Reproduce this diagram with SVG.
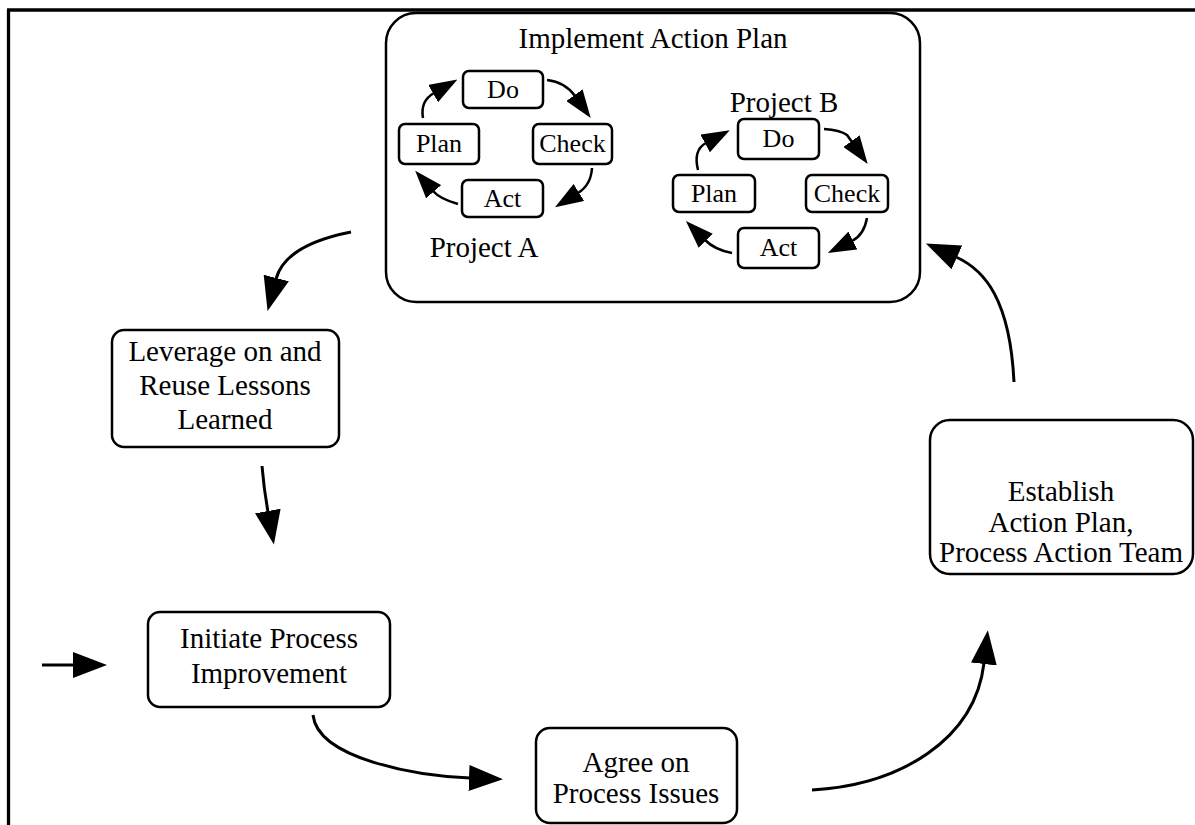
<svg xmlns="http://www.w3.org/2000/svg" width="1195" height="825" viewBox="0 0 1195 825">
<style>
.box{fill:#fff;stroke:#000;stroke-width:2.5}
.sbox{fill:#fff;stroke:#000;stroke-width:2.5}
.t{font-family:"Liberation Serif","Times New Roman",serif;font-size:29px;fill:#000;text-anchor:middle}
.st{font-family:"Liberation Serif","Times New Roman",serif;font-size:26px;fill:#000;text-anchor:middle}
.c{fill:none;stroke:#000;stroke-width:3}
.sc{fill:none;stroke:#000;stroke-width:2.5}
</style>
<defs>
<marker id="big" markerUnits="userSpaceOnUse" markerWidth="34" markerHeight="26" viewBox="0 0 34 26" refX="1" refY="13" orient="auto">
<path d="M0,0 L34,13 L0,26 z" fill="#000"/>
</marker>
<marker id="small" markerUnits="userSpaceOnUse" markerWidth="28" markerHeight="20" viewBox="0 0 28 20" refX="1" refY="10" orient="auto">
<path d="M0,0 L28,10 L0,20 z" fill="#000"/>
</marker>
</defs>
<rect width="1195" height="825" fill="#fff"/>
<g id="frame" fill="none" stroke="#000" stroke-width="3.3">
<path d="M7,10 H1195 M8.5,10 V825"/>
</g>
<g id="implement">
<rect class="box" x="386" y="13" width="534" height="289" rx="30"/>
<text class="t" x="653" y="48" font-size="31.5">Implement Action Plan</text>
<text class="t" x="484" y="257" font-size="30.5">Project A</text>
<text class="t" x="784" y="112" font-size="30">Project B</text>
</g>
<g id="a-do"><rect class="sbox" x="463" y="71" width="80" height="37" rx="6"/><text class="st" x="503" y="98">Do</text></g>
<g id="a-plan"><rect class="sbox" x="399" y="124" width="80" height="40" rx="6"/><text class="st" x="439" y="152">Plan</text></g>
<g id="a-check"><rect class="sbox" x="533" y="124" width="79" height="40" rx="6"/><text class="st" x="572.5" y="152">Check</text></g>
<g id="a-act"><rect class="sbox" x="462" y="180" width="81" height="37" rx="6"/><text class="st" x="502.5" y="207">Act</text></g>
<g id="b-do"><rect class="sbox" x="738" y="119" width="81" height="40" rx="6"/><text class="st" x="778.5" y="147">Do</text></g>
<g id="b-plan"><rect class="sbox" x="673" y="175" width="82" height="37" rx="6"/><text class="st" x="714" y="202">Plan</text></g>
<g id="b-check"><rect class="sbox" x="806" y="175" width="82" height="37" rx="6"/><text class="st" x="847" y="202">Check</text></g>
<g id="b-act"><rect class="sbox" x="738" y="228" width="81" height="40" rx="6"/><text class="st" x="778.5" y="256">Act</text></g>
<g id="leverage">
<rect class="box" x="112" y="330" width="227" height="117" rx="12"/>
<text class="t" x="225" y="361">Leverage on and</text>
<text class="t" x="225" y="395">Reuse Lessons </text>
<text class="t" x="225" y="429">Learned</text>
</g>
<g id="initiate">
<rect class="box" x="148" y="612" width="242" height="95" rx="12"/>
<text class="t" x="269" y="648">Initiate Process</text>
<text class="t" x="269" y="683">Improvement</text>
</g>
<g id="agree">
<rect class="box" x="536" y="728" width="201" height="95" rx="14"/>
<text class="t" x="636" y="772">Agree on</text>
<text class="t" x="636" y="803">Process Issues</text>
</g>
<g id="establish">
<rect class="box" x="930" y="420" width="263" height="154" rx="20"/>
<text class="t" x="1061" y="501">Establish</text>
<text class="t" x="1061" y="532">Action Plan,</text>
<text class="t" x="1061" y="562">Process Action Team</text>
</g>
<g id="connectors">
<path class="c" marker-end="url(#big)" d="M351,232 Q285,245 276,279"/>
<path class="c" marker-end="url(#big)" d="M262,466 Q264,490 268,512"/>
<path class="c" marker-end="url(#big)" d="M42,665 L74,665"/>
<path class="c" marker-end="url(#big)" d="M313,715 C318,760 420,776 470,778"/>
<path class="c" marker-end="url(#big)" d="M812,790 C900,785 975,740 984,663"/>
<path class="c" marker-end="url(#big)" d="M1014,382 C1010,300 985,270 956,257"/>
<path class="sc" marker-end="url(#small)" d="M423,118 Q420,101 434,93"/>
<path class="sc" marker-end="url(#small)" d="M547,80 Q565,82 575,96"/>
<path class="sc" marker-end="url(#small)" d="M592,168 Q591,185 578,193"/>
<path class="sc" marker-end="url(#small)" d="M458,204 Q440,199 433,191"/>
<path class="sc" marker-end="url(#small)" d="M698,170 Q693,150 706,143"/>
<path class="sc" marker-end="url(#small)" d="M824,129 Q840,130 847,135 L852,142"/>
<path class="sc" marker-end="url(#small)" d="M867,218 Q864,235 852,241"/>
<path class="sc" marker-end="url(#small)" d="M732,253 Q715,250 705,240"/>
</g>
</svg>
